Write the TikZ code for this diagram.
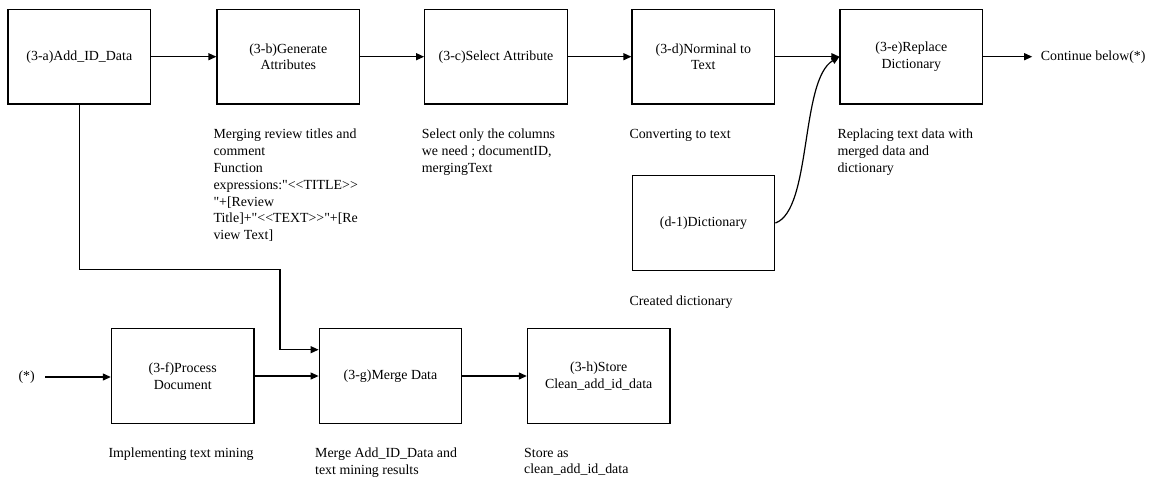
\documentclass[tikz,border=0pt]{standalone}
\usepackage{fontspec}
\setmainfont{Liberation Serif}[Ligatures=TeXOff]
\usetikzlibrary{arrows.meta}
\begin{document}
\begin{tikzpicture}[x=1pt,y=-1pt,
  box/.style={draw, line width=1.3pt, minimum width=142.5pt, minimum height=94.5pt, align=center, inner sep=2pt, font=\fontsize{13.9}{16.6}\selectfont},
  note/.style={anchor=north west, align=left, inner sep=0pt, font=\fontsize{13.9}{16.8}\selectfont},
  lbl/.style={inner sep=0pt, font=\fontsize{13.9}{16.8}\selectfont},
  arr/.style={line width=1.2pt, -{Triangle[length=8pt,width=7pt]}},
]
\useasboundingbox (0,0) rectangle (1169,477);

\node[box] (a) at (79.3,56.7) {(3-a)Add\_ID\_Data};
\node[box] (b) at (288.3,56.7) {(3-b)Generate\\Attributes};
\node[box] (c) at (496,56.7) {(3-c)Select Attribute};
\node[box] (d) at (703.3,56.7) {(3-d)Norminal to\\Text};
\node[box] (e) at (911.3,56.7) {(3-e)Replace\\Dictionary};
\node[box] (d1) at (703.5,223) {(d-1)Dictionary};
\node[box] (f) at (182.7,376) {(3-f)Process\\Document};
\node[box] (g) at (390.5,376) {(3-g)Merge Data};
\node[box] (h) at (598.7,376) {(3-h)Store\\Clean\_add\_id\_data};

\node[lbl, anchor=west] (cont) at (1040.7,56.7) {Continue below(*)};
\node[lbl] (star) at (26.7,377) {(*)};

\node[note] (bn) at (213.3,129) {Merging review titles and\\comment\\Function\\expressions:"<<TITLE>>\\"+[Review\\Title]+"<<TEXT>>"+[Re\\view Text]};
\node[note] (cn) at (421.7,129) {Select only the columns\\we need ; documentID,\\mergingText};
\node[note] (dn) at (629.3,129) {Converting to text};
\node[note] (en) at (837.3,129) {Replacing text data with\\merged data and\\dictionary};
\node[note] (d1n) at (629.3,295.7) {Created dictionary};
\node[note] (fn) at (108.3,447.7) {Implementing text mining};
\node[note] (gn) at (315,447.7) {Merge Add\_ID\_Data and\\text mining results};
\node[note] (hn) at (524,447.7) {Store as\\clean\_add\_id\_data};

\draw[arr] (a) -- (b);
\draw[arr] (b) -- (c);
\draw[arr] (c) -- (d);
\draw[arr] (d) -- (e);
\draw[arr] (e) -- ([xshift=-8.5pt]cont.west);
\draw[arr] (d1.east) .. controls (812,210) and (800,80) .. (e.west);
\draw[arr] ([xshift=10pt]star.east) -- (f.west |- star.east);
\draw[arr] (f) -- (g);
\draw[arr] (g) -- (h);
\draw[arr] (a.south) |- (280,269.3) |- ([yshift=26.3pt]g.west);
\end{tikzpicture}
\end{document}
